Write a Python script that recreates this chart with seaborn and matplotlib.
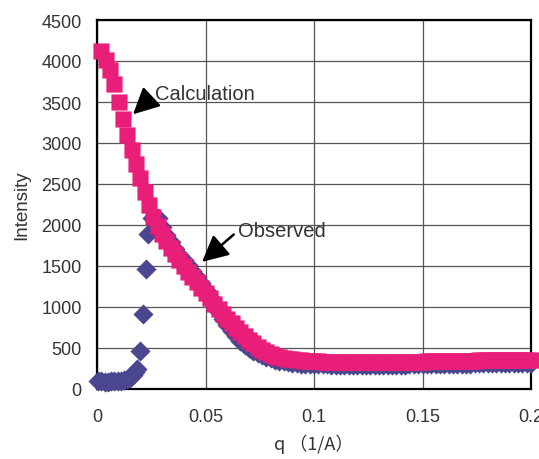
import numpy as np
import pandas as pd
import matplotlib
matplotlib.use("Agg")
import matplotlib.pyplot as plt
import seaborn as sns

# calculated curve (pink squares), sampled every 0.002 in q
q_calc = np.round(np.arange(0.002, 0.2001, 0.002), 4)
calc = [4120, 4010, 3890, 3720, 3500, 3290, 3100, 2910, 2740, 2570,
        2400, 2240, 2100, 1985, 1890, 1805, 1725, 1650, 1575, 1500,
        1430, 1365, 1300, 1235, 1170, 1105, 1040, 975, 915, 855,
        800, 745, 695, 645, 600, 555, 515, 480, 450, 425,
        405, 390, 378, 368, 360, 353, 348, 344, 341, 338,
        336, 335, 334, 332, 331, 330, 329, 328, 328, 327,
        327, 326, 326, 326, 326, 327, 327, 328, 329, 330,
        331, 332, 333, 334, 335, 336, 337, 338, 339, 340,
        341, 342, 343, 344, 345, 346, 347, 348, 349, 350,
        351, 352, 353, 354, 355, 355, 356, 357, 357, 358]

# observed data (navy diamonds)
q_obs_low = [0.0005, 0.0020, 0.0035, 0.0050, 0.0065, 0.0080, 0.0095, 0.0110,
             0.0125, 0.0140, 0.0152, 0.0164, 0.0175, 0.0184, 0.0198, 0.0212,
             0.0226, 0.0233, 0.0255]
obs_low = [95, 92, 90, 90, 92, 94, 96, 100, 106, 116, 135, 170, 205, 245,
           465, 915, 1460, 1890, 2080]
q_obs_high = np.round(np.arange(0.028, 0.2001, 0.002), 4)
obs_high = [2080, 1980, 1880, 1790, 1710, 1640, 1575, 1510, 1440, 1370,
            1290, 1210, 1120, 1030, 940, 855, 780, 710, 645, 590,
            540, 500, 465, 435, 410, 390, 372, 358, 346, 336,
            328, 320, 315, 310, 306, 303, 300,
            300, 299, 299, 298, 298, 297, 297, 296, 296, 296,
            295, 295, 295, 295, 295, 296, 296, 297, 297, 298,
            298, 299, 300, 300, 301, 302, 303, 304, 305, 305,
            306, 307, 308, 309, 309, 310, 311, 312, 312, 313,
            314, 314, 315, 316, 316, 317, 318, 318, 319, 320]

PINK = "#E91E78"
NAVY = "#4A468F"
TXT = "#333333"

df_calc = pd.DataFrame({"q": q_calc, "I": calc})
df_obs = pd.DataFrame({"q": list(q_obs_low) + list(q_obs_high),
                       "I": obs_low + obs_high})

sns.set_style("white")
plt.rcParams["font.family"] = ["Liberation Sans", "DejaVu Sans"]

fig = plt.figure(figsize=(5.39, 4.60), dpi=100)
ax = fig.add_axes([97/539, 70/460, 434/539, 369/460])

sns.scatterplot(data=df_obs, x="q", y="I", marker="D", s=105, color=NAVY,
                linewidth=0, ax=ax, clip_on=False, zorder=3, snap=False)
sns.scatterplot(data=df_calc, x="q", y="I", marker="s", s=135, color=PINK,
                linewidth=0, ax=ax, clip_on=False, zorder=4, snap=False)

ax.set_xlim(0, 0.2)
ax.set_ylim(0, 4500)
ax.set_xticks([0, 0.05, 0.1, 0.15, 0.2])
ax.set_xticklabels(["0", "0.05", "0.1", "0.15", "0.2"])
ax.set_yticks(range(0, 4501, 500))
ax.grid(True, color="#555555", linewidth=0.9)
ax.set_axisbelow(True)
for sp in ax.spines.values():
    sp.set_color("black")
    sp.set_linewidth(1.6)
ax.tick_params(length=0, labelsize=13, labelcolor=TXT)
ax.tick_params(axis="x", pad=14)
ax.tick_params(axis="y", pad=11)

ax.set_ylabel("Intensity", fontsize=13.5, color=TXT, labelpad=8)
ax.set_xlabel("q （1/A）", fontsize=13, color=TXT, labelpad=6,
              family=["Noto Sans CJK JP", "DejaVu Sans"])

arrow = dict(arrowstyle="-|>,head_length=1.0,head_width=0.5", color="black",
             lw=1.8, mutation_scale=16, relpos=(0, 0.5), shrinkA=1, shrinkB=0)
ax.annotate("Calculation", xy=(0.0166, 3350), xytext=(0.0267, 3600),
            fontsize=14.5, color=TXT, ha="left", va="center",
            arrowprops=arrow, zorder=6)
ax.annotate("Observed", xy=(0.0484, 1550), xytext=(0.0650, 1930),
            fontsize=14.5, color=TXT, ha="left", va="center",
            arrowprops=arrow, zorder=6)

fig.savefig("out.png", dpi=100)
